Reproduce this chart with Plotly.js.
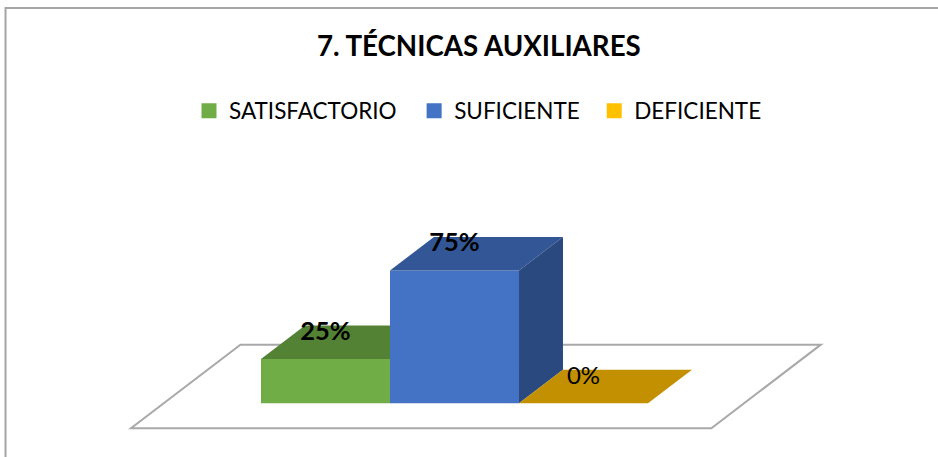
<!DOCTYPE html>
<html>
<head>
<meta charset="utf-8">
<script src="https://cdn.plot.ly/plotly-3.0.1.min.js"></script>
<style>html,body{margin:0;padding:0;background:#fff}#chart{width:938px;height:457px}</style>
</head>
<body>
<div id="chart"></div>
<script>
const chartTitle = "7. TÉCNICAS AUXILIARES";
const categories = ["SATISFACTORIO", "SUFICIENTE", "DEFICIENTE"];
const values = [25, 75, 0];
const labelText = ["25%", "75%", "0%"];
const labelWeight = ["bold", "bold", "normal"];
const labelSize = [25.5, 25.5, 24];
const frontColors = ["#70ad47", "#4472c4", "#ffc000"];
const topColors = ["#548235", "#335796", "#c29000"];
const sideColors = ["#000000", "#2a4a7f", "#000000"];
const legendIds = ["legend", "legend2", "legend3"];
const legendLeft = [0.2015, 0.4415, 0.6335];

const FONT = "Lato, Carlito, Calibri, sans-serif";
const DEPTH_X = 0.341, DEPTH_Y = 19, LABEL_LIFT = 14.5;
const proj = (x, v, d) => [x + d * DEPTH_X, v + d * DEPTH_Y];
const poly = (pts, color) => ({
  type: "scatter", mode: "lines", fill: "toself", fillcolor: color,
  line: {width: 0, color: color}, showlegend: false, hoverinfo: "skip",
  x: pts.map(p => p[0]), y: pts.map(p => p[1])
});

const traces = [];
categories.forEach((c, i) => {
  traces.push({type: "bar", x: [i], y: [values[i]], width: 1, showlegend: false,
    marker: {color: frontColors[i], line: {width: 0}}, name: c, hoverinfo: "skip"});
});
categories.forEach((c, i) => {
  const v = values[i], L = i - 0.5, R = i + 0.5;
  const next = i + 1 < values.length ? values[i + 1] : -1;
  const backR = proj(R, v, 1);
  if (next > v) backR[0] = R;
  const nearTop = [proj(L, v, 0), proj(R, v, 0), backR, proj(L, v, 1)];
  traces.push(poly(nearTop, topColors[i]));
  if (v > 0 && next < v) {
    traces.push(poly([proj(R, v, 0), proj(R, v, 1), proj(R, 0, 1), proj(R, 0, 0)], sideColors[i]));
  }
});
traces.push({
  type: "scatter", mode: "text", x: categories.map((c, i) => i),
  y: values.map(v => v + LABEL_LIFT), text: labelText, textposition: "middle center",
  textfont: {family: FONT, size: labelSize, color: "#000", weight: labelWeight},
  showlegend: false, hoverinfo: "skip"
});
categories.forEach((c, i) => {
  traces.push({type: "scatter", mode: "markers", x: [null], y: [null], name: c, legend: legendIds[i],
    marker: {symbol: "square", size: 15, color: frontColors[i]}});
});

const floorL = -1.254, floorR = 3.245, floorFront = -0.744, floorBack = 1.744;
const floorPts = [proj(floorL, 0, floorFront), proj(floorR, 0, floorFront), proj(floorR, 0, floorBack), proj(floorL, 0, floorBack)];
const floorPath = "M" + floorPts.map(p => p[0] + "," + p[1]).join("L") + "Z";

const layout = {
  width: 938, height: 457, margin: {l: 0, r: 0, t: 0, b: 0},
  paper_bgcolor: "#fff", plot_bgcolor: "#fff", barmode: "overlay",
  title: {text: "<b>" + chartTitle + "</b>", x: 0.5105, xanchor: "center", y: 0.898, yanchor: "middle",
    font: {family: FONT, size: 27.7, color: "#000"}},
  xaxis: {visible: false, range: [-2.523, 4.748], fixedrange: true},
  yaxis: {visible: false, range: [-30.34, 227.85], fixedrange: true},
  shapes: [
    {type: "path", layer: "below", xref: "x", yref: "y", path: floorPath, fillcolor: "#fff", line: {color: "#a9a9a9", width: 2}},
    {type: "path", layer: "above", xref: "paper", yref: "paper", path: "M0.0059,0 L0.0059,0.9825 L1,0.9825", line: {color: "#a6a6a6", width: 2}}
  ]
};
legendIds.forEach((id, i) => {
  layout[id] = {orientation: "h", x: legendLeft[i], xanchor: "left", y: 0.757, yanchor: "middle",
    itemsizing: "trace", font: {family: FONT, size: 22.5, color: "#000"}, bgcolor: "rgba(0,0,0,0)"};
});
Plotly.newPlot("chart", traces, layout, {displayModeBar: false, responsive: false});
</script>
</body>
</html>
